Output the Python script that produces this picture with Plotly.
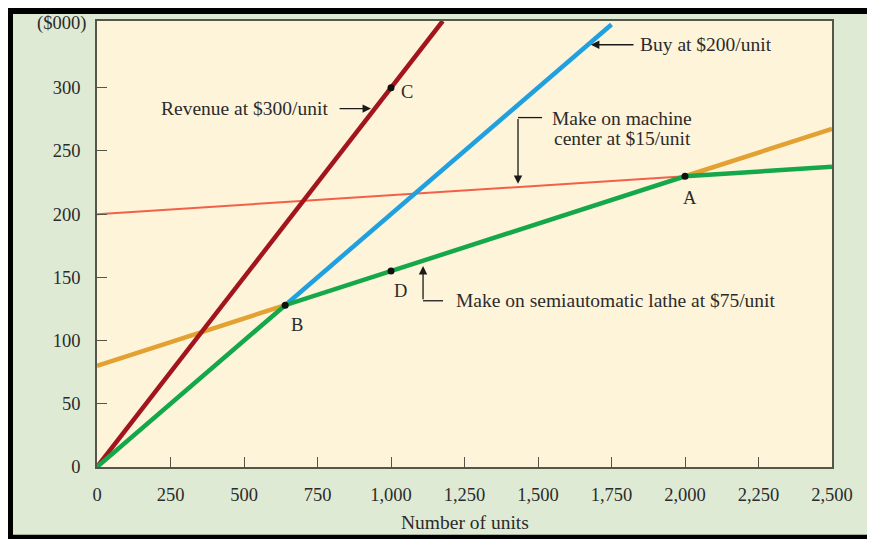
import plotly.graph_objects as go

# ---- data ----
x_ticks = [0, 250, 500, 750, 1000, 1250, 1500, 1750, 2000, 2250, 2500]
x_tick_labels = ["0", "250", "500", "750", "1,000", "1,250", "1,500", "1,750", "2,000", "2,250", "2,500"]
y_ticks = [0, 50, 100, 150, 200, 250, 300]
y_tick_labels = ["0", "50", "100", "150", "200", "250", "300"]

revenue_x = [0, 1176]
revenue_y = [0, 352.8]
buy_x = [640, 1750]
buy_y = [128, 350]
machine_x = [0, 2000]
machine_y = [200, 230]
lathe_low_x = [0, 640]
lathe_low_y = [80, 128]
lathe_high_x = [2000, 2500]
lathe_high_y = [230, 267.5]
best_x = [0, 640, 2000, 2500]
best_y = [0, 128, 230, 237.5]
point_names = ["B", "C", "D", "A"]
point_x = [640, 1000, 1000, 2000]
point_y = [128, 300, 155, 230]

FONT = "Liberation Serif"
FS = 19.5
TXT = "#2b2b2b"
AX = "#55554a"

fig = go.Figure()
fig.add_trace(go.Scatter(x=machine_x, y=machine_y, mode="lines", line=dict(color="#f2604a", width=2)))
fig.add_trace(go.Scatter(x=lathe_low_x, y=lathe_low_y, mode="lines", line=dict(color="#e2a131", width=4.5)))
fig.add_trace(go.Scatter(x=lathe_high_x, y=lathe_high_y, mode="lines", line=dict(color="#e2a131", width=4.5)))
fig.add_trace(go.Scatter(x=buy_x, y=buy_y, mode="lines", line=dict(color="#21a0df", width=4.5)))
fig.add_trace(go.Scatter(x=revenue_x, y=revenue_y, mode="lines", line=dict(color="#a3151c", width=4.5)))
fig.add_trace(go.Scatter(x=best_x, y=best_y, mode="lines", line=dict(color="#14a84a", width=4.5)))
fig.add_trace(go.Scatter(x=point_x, y=point_y, mode="markers", marker=dict(color="#111111", size=7)))

tf = dict(size=FS, family=FONT, color=TXT)
tick_f = dict(size=18.5, family=FONT, color=TXT)
annotations = []
letter_pos = {"B": (680, 112), "C": (1055, 297), "D": (1032, 139), "A": (2017, 213)}
for n in point_names:
    lx, ly = letter_pos[n]
    annotations.append(dict(x=lx, y=ly, text=n, showarrow=False, font=tick_f))

annotations += [
    dict(x=503, y=283.5, text="Revenue at $300/unit", showarrow=False, font=tf),
    dict(x=2071, y=334, text="Buy at $200/unit", showarrow=False, font=tf),
    dict(x=1786, y=275.6, text="Make on machine", showarrow=False, font=tf),
    dict(x=1786, y=259.9, text="center at $15/unit", showarrow=False, font=tf),
    dict(x=1214, y=131.5, text="Make on semiautomatic lathe at $75/unit", showarrow=False, xanchor="left", font=tf),
]
arrow_common = dict(text="", showarrow=True, arrowhead=2, arrowsize=1.3, arrowwidth=1.3, arrowcolor="#1a1a1a",
                    axref="x", ayref="y", xref="x", yref="y")
annotations += [
    dict(x=932, y=283.5, ax=820, ay=283.5, **arrow_common),
    dict(x=1680, y=334, ax=1830, ay=334, **arrow_common),
    dict(x=1432, y=224, ax=1432, ay=276.4, **arrow_common),
    dict(x=1109, y=159, ax=1109, ay=131.5, **arrow_common),
    dict(x=-0.048, y=0.995, xref="paper", yref="paper", xanchor="center", yanchor="middle", text="($000)",
         showarrow=False, font=tick_f),
    dict(x=0.5, y=-0.125, xref="paper", yref="paper", xanchor="center", yanchor="middle", text="Number of units",
         showarrow=False, font=tf),
]

shapes = [
    dict(type="line", xref="x", yref="y", x0=1432, y0=276.4, x1=1514, y1=276.4, line=dict(color="#1a1a1a", width=1.3)),
    dict(type="line", xref="x", yref="y", x0=1109, y0=131.5, x1=1177, y1=131.5, line=dict(color="#1a1a1a", width=1.3)),
    # outer frame
    dict(type="rect", xref="paper", yref="paper", x0=-0.13, x1=-0.1143, y0=-0.2, y1=1.1, fillcolor="black", line=dict(width=0)),
    dict(type="rect", xref="paper", yref="paper", x0=-0.13, x1=1.1, y0=1.0156, y1=1.1, fillcolor="black", line=dict(width=0)),
    dict(type="rect", xref="paper", yref="paper", x0=-0.13, x1=1.1, y0=-0.2, y1=-0.1518, fillcolor="black", line=dict(width=0)),
]

fig.update_layout(
    width=867, height=531,
    margin=dict(l=89, r=43, t=11, b=72),
    paper_bgcolor="#dfead4",
    plot_bgcolor="#fef4d9",
    showlegend=False,
    annotations=annotations,
    shapes=shapes,
    xaxis=dict(range=[0, 2500], tickvals=x_ticks, ticktext=x_tick_labels, ticks="inside", ticklen=10,
               tickcolor=AX, tickwidth=1.3, showline=True, linecolor=AX, linewidth=1.5, mirror=True,
               showgrid=False, zeroline=False, ticklabelstandoff=10, tickfont=tick_f),
    yaxis=dict(range=[0, 352.8], tickvals=y_ticks, ticktext=y_tick_labels, ticks="inside", ticklen=10,
               tickcolor=AX, tickwidth=1.3, showline=True, linecolor=AX, linewidth=1.5, mirror=True,
               showgrid=False, zeroline=False, ticklabelstandoff=11, tickfont=tick_f),
)

fig.write_html("out.html")
